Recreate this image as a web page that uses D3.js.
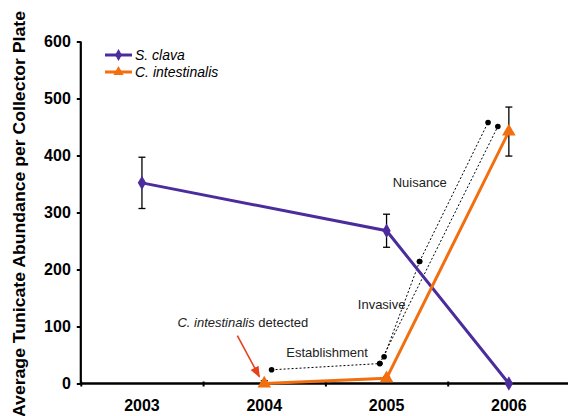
<!DOCTYPE html>
<html lang="en">
<head>
<meta charset="utf-8">
<title>tunicate abundance</title>
<script src="https://d3js.org/d3.v7.min.js"></script>
<style>
  body { margin: 0; background: #fff; }
  text { font-family: "Liberation Sans", Arial, sans-serif; }
</style>
</head>
<body>
<div id="chart"></div>
<script>
// data
const years = [2003, 2004, 2005, 2006];
const yTicks = [0, 100, 200, 300, 400, 500, 600];

const clavaYears = [2003, 2005, 2006];
const clavaVals = [352, 268, 0];
const clavaErr = [45, 29, 0];

const cionaYears = [2004, 2005, 2006];
const cionaVals = [0, 9, 442];
const cionaErr = [5, 3, 43];

// invasion phase annotations, in data units (year, abundance)
const phaseLines = [
  [[2004.06, 24], [2004.945, 35]],
  [[2004.945, 35], [2005.91, 451]],
  [[2004.98, 47], [2005.27, 214]],
  [[2005.27, 214], [2005.83, 458]]
];
const phaseLabels = [
  {text: "Establishment", at: [2004.18, 47]},
  {text: "Invasive", at: [2004.765, 131]},
  {text: "Nuisance", at: [2005.05, 345]}
];
const detectLabel = {at: [2003.29, 99]};
const arrowLine = [[2003.78, 84], [2003.96, 12]];

const W = 568, H = 416;
const purple = "#4b2c9c", orange = "#f26f10";

const svg = d3.select("#chart").append("svg")
  .attr("width", W).attr("height", H);

const x = d3.scaleLinear().domain([2002.5, 2006.5]).range([80.8, 570]);
const y = d3.scaleLinear().domain([0, 600]).range([383.5, 41.5]);

// y axis
const yAxis = svg.append("g").attr("transform", "translate(80.8,0)")
  .call(d3.axisLeft(y).tickValues(yTicks).tickSize(4).tickPadding(6));
yAxis.select(".domain").attr("stroke-width", 2.2).attr("d", `M0,${y(600)}V${y(0)}`);
yAxis.selectAll(".tick line").attr("stroke-width", 2);
yAxis.selectAll(".tick text").attr("font-size", 16).attr("font-weight", "bold")
  .attr("font-family", "'Liberation Sans', Arial, sans-serif").attr("fill", "#000");

// x axis: tick marks between categories, labels at the years
const xAxis = svg.append("g").attr("transform", `translate(0,${y(0)})`)
  .call(d3.axisBottom(x).tickValues([2002.5, 2003.5, 2004.5, 2005.5, 2006.5])
    .tickSize(3).tickFormat(""));
xAxis.select(".domain").attr("stroke-width", 2.4).attr("d", `M${x(2002.5)},0H${W}`);
xAxis.selectAll(".tick line").attr("stroke-width", 2).attr("y1", -2);
svg.append("g").selectAll("text").data(years).join("text")
  .attr("x", d => x(d)).attr("y", 411)
  .attr("text-anchor", "middle").attr("font-size", 16).attr("font-weight", "bold")
  .text(d => d);

// y title
svg.append("text")
  .attr("transform", "translate(24.5,214) rotate(-90)")
  .attr("text-anchor", "middle").attr("font-size", 16).attr("font-weight", "bold")
  .attr("textLength", 406).attr("lengthAdjust", "spacingAndGlyphs")
  .text("Average Tunicate Abundance per Collector Plate");

// annotations
const ann = svg.append("g");
ann.selectAll("line.phase").data(phaseLines).join("line")
  .attr("class", "phase")
  .attr("x1", d => x(d[0][0])).attr("y1", d => y(d[0][1]))
  .attr("x2", d => x(d[1][0])).attr("y2", d => y(d[1][1]))
  .attr("stroke", "#000").attr("stroke-width", 1).attr("stroke-dasharray", "2,2");
const dots = [];
phaseLines.forEach(l => { dots.push(l[0], l[1]); });
ann.selectAll("circle").data(dots).join("circle")
  .attr("cx", d => x(d[0])).attr("cy", d => y(d[1])).attr("r", 2.8).attr("fill", "#000");
ann.selectAll("text.phase").data(phaseLabels).join("text")
  .attr("class", "phase")
  .attr("x", d => x(d.at[0])).attr("y", d => y(d.at[1]))
  .attr("font-size", 13).attr("fill", "#222").text(d => d.text);

const det = ann.append("text")
  .attr("x", x(detectLabel.at[0])).attr("y", y(detectLabel.at[1]))
  .attr("font-size", 13).attr("fill", "#222");
det.append("tspan").attr("font-style", "italic").text("C. intestinalis");
det.append("tspan").text(" detected");

svg.append("defs").append("marker")
  .attr("id", "arr").attr("viewBox", "0 0 10 10").attr("refX", 9).attr("refY", 5)
  .attr("markerWidth", 7).attr("markerHeight", 7).attr("orient", "auto")
  .append("path").attr("d", "M0,1L10,5L0,9z").attr("fill", "#e8401c");
ann.append("line")
  .attr("x1", x(arrowLine[0][0])).attr("y1", y(arrowLine[0][1]))
  .attr("x2", x(arrowLine[1][0])).attr("y2", y(arrowLine[1][1]))
  .attr("stroke", "#e8401c").attr("stroke-width", 1.6).attr("marker-end", "url(#arr)");

// series
function drawSeries(xs, vals, errs, color, marker) {
  const g = svg.append("g");
  const pts = xs.map((d, i) => ({x: d, v: vals[i], e: errs[i]}));
  g.append("path").datum(pts)
    .attr("fill", "none").attr("stroke", color).attr("stroke-width", 3)
    .attr("d", d3.line().x(d => x(d.x)).y(d => y(d.v)));
  const eb = g.selectAll("g.eb").data(pts.filter(d => d.e > 0)).join("g");
  eb.append("line").attr("x1", d => x(d.x)).attr("x2", d => x(d.x))
    .attr("y1", d => y(d.v + d.e)).attr("y2", d => y(d.v - d.e))
    .attr("stroke", "#000").attr("stroke-width", 1.3);
  [1, -1].forEach(s => {
    eb.append("line").attr("x1", d => x(d.x) - 3.5).attr("x2", d => x(d.x) + 3.5)
      .attr("y1", d => y(d.v + s * d.e)).attr("y2", d => y(d.v + s * d.e))
      .attr("stroke", "#000").attr("stroke-width", 1.3);
  });
  g.selectAll("path.m").data(pts).join("path").attr("class", "m")
    .attr("transform", d => `translate(${x(d.x)},${y(d.v)})`)
    .attr("d", d3.symbol().type(marker).size(marker === d3.symbolDiamond ? 60 : 80))
    .attr("fill", color);
}
drawSeries(clavaYears, clavaVals, clavaErr, purple, d3.symbolDiamond);
drawSeries(cionaYears, cionaVals, cionaErr, orange, d3.symbolTriangle);

// legend
const legend = [
  {name: "S. clava", color: purple, marker: d3.symbolDiamond, size: 40},
  {name: "C. intestinalis", color: orange, marker: d3.symbolTriangle, size: 45}
];
const lg = svg.append("g").selectAll("g").data(legend).join("g")
  .attr("transform", (d, i) => `translate(105,${55 + i * 17})`);
lg.append("line").attr("x1", 0).attr("x2", 27).attr("stroke", d => d.color).attr("stroke-width", 3);
lg.append("path").attr("transform", "translate(13.5,0)")
  .attr("d", d => d3.symbol().type(d.marker).size(d.size)()).attr("fill", d => d.color);
lg.append("text").attr("x", 30).attr("y", 5)
  .attr("font-size", 14).attr("font-style", "italic").text(d => d.name);
</script>
</body>
</html>
